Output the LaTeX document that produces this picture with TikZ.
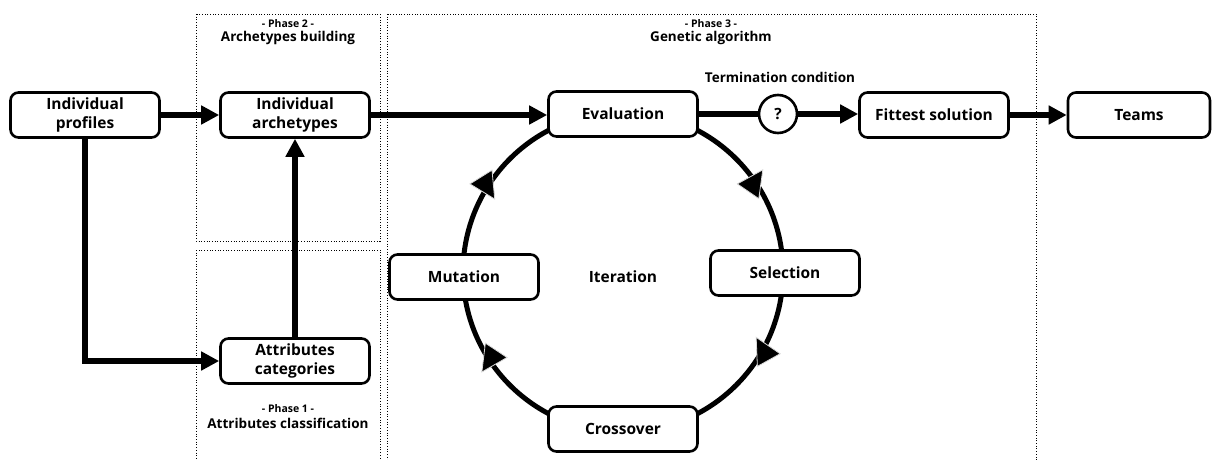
\documentclass[tikz,border=0pt]{standalone}
\usepackage{fontspec}
\setmainfont{Open Sans}
\usetikzlibrary{arrows.meta,calc}
\begin{document}
\begin{tikzpicture}[x=1pt,y=-1pt,
  box/.style={draw,line width=2.6pt,rounded corners=8pt,fill=white,minimum width=149pt,minimum height=45pt,align=center,font=\fontsize{15.5}{19}\selectfont\bfseries,inner sep=2pt},
  phase/.style={draw,dotted,line width=0.7pt},
  conn/.style={line width=5.5pt,-{Triangle[length=18pt,width=18pt]}},
  plain/.style={line width=5.5pt},
  small/.style={font=\fontsize{10.5}{12}\selectfont\bfseries},
  title/.style={font=\fontsize{13.5}{15}\selectfont\bfseries},
  cyclearrow/.style={line width=0.8pt,draw=white!85!black,fill=black}
]
\useasboundingbox (0,0) rectangle (1215,460);
% phase frames
\draw[phase] (196,14) rectangle (380,241);
\draw[phase] (196,250) rectangle (380,470);
\draw[phase] (387,14) rectangle (1036,470);
\node[small] (p2a) at (288,24) {- Phase 2 -};
\node[title] (p2b) at (288,38) {Archetypes building};
\node[small] (p3a) at (711,24) {- Phase 3 -};
\node[title] (p3b) at (711,38) {Genetic algorithm};
\node[small] (p1a) at (288,409) {- Phase 1 -};
\node[title] (p1b) at (288,423) {Attributes classification};
% iteration circle
\coordinate (cc) at (623,272);
\draw[line width=5pt] (cc) circle (160);
\foreach \a in {29,146.5,212,325.5}{
  \begin{scope}[shift={(623,272)}]
  \begin{scope}[shift={(\a:160)},rotate=\a+90]
  \draw[cyclearrow] (14,0) -- (-12,-13) -- (-12,13) -- cycle;
  \end{scope}
  \end{scope}
}
% nodes
\node[box] (prof) at (85,115) {Individual\\profiles};
\node[box] (arch) at (295,115) {Individual\\archetypes};
\node[box] (cat) at (295,361) {Attributes\\categories};
\node[box] (eval) at (623,114) {Evaluation};
\node[draw,circle,line width=2.6pt,minimum size=38pt,inner sep=0pt,fill=white,font=\fontsize{15.5}{19}\selectfont\bfseries] (q) at (778,114) {?};
\node[box] (fit) at (934,115) {Fittest solution};
\node[box,minimum width=142pt] (teams) at (1139,115) {Teams};
\node[box] (mut) at (464,277) {Mutation};
\node[box] (sel) at (785,273) {Selection};
\node[box] (cross) at (623,429) {Crossover};
\node[font=\fontsize{15.5}{19}\selectfont\bfseries] (iter) at (623,277) {Iteration};
\node[title] (term) at (780,77) {Termination condition};
% connectors
\draw[conn] (prof) -- (arch);
\draw[conn] (prof.south) |- (cat.west);
\draw[conn] (cat.north) -- (arch.south);
\draw[conn] (arch.east) -- (eval.west|-arch.east);
\draw[plain] (eval.east) -- (q.west);
\draw[conn] (q.east) -- (fit.west|-q.east);
\draw[conn] (fit) -- (teams);
\end{tikzpicture}
\end{document}
